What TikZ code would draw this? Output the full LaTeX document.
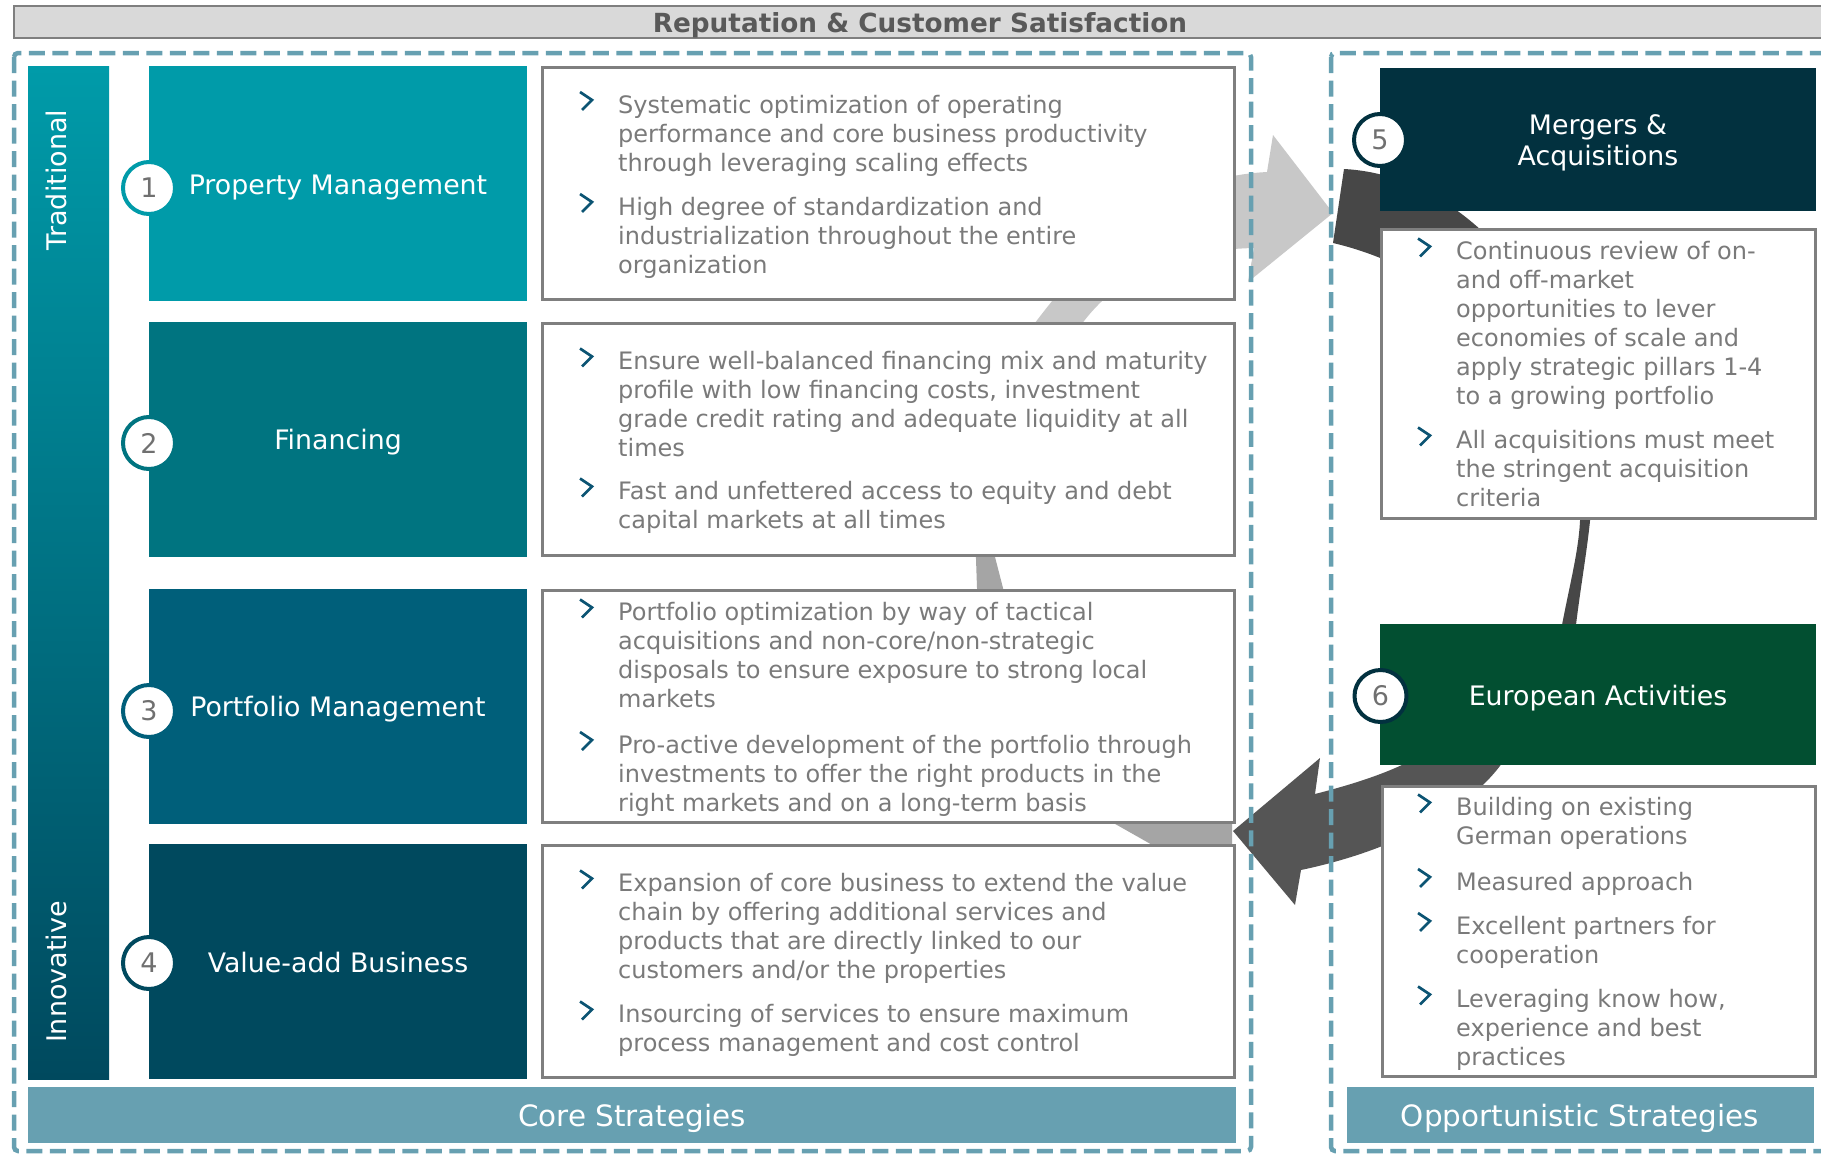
\documentclass[tikz,border=0pt]{standalone}
\usepackage{fontspec}
\setmainfont{DejaVu Sans}
\definecolor{tealA}{HTML}{009BA9}
\definecolor{tealB}{HTML}{007480}
\definecolor{tealC}{HTML}{005F7A}
\definecolor{tealD}{HTML}{00495E}
\definecolor{navy}{HTML}{02313F}
\definecolor{forest}{HTML}{024F31}
\definecolor{dashc}{HTML}{67A0B1}
\definecolor{bordc}{HTML}{7F7F7F}
\definecolor{txtc}{HTML}{7A7A7A}
\definecolor{numc}{HTML}{707070}
\definecolor{chevc}{HTML}{0C5473}
\definecolor{lgrey}{HTML}{C8C8C8}
\definecolor{mgrey}{HTML}{A5A5A5}
\definecolor{dgreyA}{HTML}{474747}
\definecolor{dgreyB}{HTML}{555555}
\definecolor{bannerc}{HTML}{D9D9D9}
\definecolor{bannertxt}{HTML}{595959}
\newcommand\ml[1]{\vtop{\baselineskip=29pt\lineskiplimit=-100pt\lineskip=0pt\halign{##\hfil\cr#1\crcr}}}
\newcommand\lowered[2]{\raisebox{-#1pt}[0pt][0pt]{#2}}
\newcommand\ctwo[1]{\vbox{\baselineskip=31pt\lineskiplimit=-100pt\lineskip=0pt\halign{\hfil##\hfil\cr#1\crcr}}}
\newcommand\bpara[4]{%
  \draw[chev] (#2-38,#3-21) -- (#2-26,#3-13) -- (#2-36,#3-3);
  \node[btxt] (#1) at (#2,#3) {\ml{#4}};}
\begin{document}
\begin{tikzpicture}[x=1pt,y=-1pt,
  colbox/.style={draw=none, minimum width=378pt, minimum height=235pt, inner sep=0pt, text=white, font=\fontsize{26.8}{31}\selectfont},
  txtbox/.style={draw=bordc, line width=3pt, fill=white, minimum width=692pt, minimum height=232pt, inner sep=0pt},
  numc/.style={circle, fill=white, line width=4pt, minimum size=52pt, inner sep=0pt, text=numc, font=\fontsize{27}{31}\selectfont},
  btxt/.style={anchor=base west, inner sep=0pt, text=txtc, font=\fontsize{24}{29}\selectfont},
  chev/.style={draw=chevc, line width=2.7pt},
  dashbox/.style={draw=dashc, line width=4.5pt, dash pattern=on 16pt off 7.5pt, rounded corners=4pt},
  strat/.style={fill=dashc, text=white, font=\fontsize{29.4}{34}\selectfont, inner sep=0pt, minimum height=56pt},
  sidetxt/.style={rotate=90, text=white, inner sep=0pt, font=\fontsize{27}{31}\selectfont}]
\useasboundingbox (0,0) rectangle (1821,1154);
\clip (0,0) rectangle (1821,1154);
\fill[white] (0,0) rectangle (1821,1154);

% banner
\node[draw=bordc, line width=2pt, fill=bannerc, minimum width=1812pt, minimum height=32pt, inner sep=0pt,
  text=bannertxt, font=\bfseries\fontsize{26.3}{30}\selectfont] (rep) at (920,22) {\lowered{10.5}{Reputation \& Customer Satisfaction}};

% arrows (behind boxes)
\fill[lgrey] (1015,350) .. controls (1080,260) and (1150,178) .. (1267,172) -- (1273,135) -- (1333,213) -- (1248,282) -- (1254,248) .. controls (1175,250) and (1108,272) .. (1065,350) -- cycle;
\fill[mgrey] (975,530) -- (977,588) .. controls (980,720) and (1060,795) .. (1117,825) -- (1170,855) -- (1232,855) -- (1232,800) .. controls (1100,780) and (1005,700) .. (1003,588) -- (995,557) -- (993,530) -- cycle;
\fill[dgreyA] (1344,169) .. controls (1480,176) and (1600,330) .. (1590,521) .. controls (1586,560) and (1578,600) .. (1572,660) -- (1556,660) .. controls (1565,600) and (1578,560) .. (1580,521) .. controls (1585,400) and (1470,275) .. (1333,243) -- cycle;
\fill[dgreyB] (1233,831) -- (1320,758) -- (1315,794) .. controls (1350,785) and (1395,772) .. (1430,750) -- (1440,725) -- (1515,725) -- (1515,740) .. controls (1495,790) and (1420,845) .. (1301,870) -- (1295,905) -- cycle;

% vertical bar
\node[minimum width=81pt, minimum height=1013pt, inner sep=0pt, top color=tealA, bottom color=tealD, draw=none] (bar) at (68.5,572.5) {};
\node[sidetxt] (trad) at (56,180) {Traditional};
\node[sidetxt] (innov) at (56,972) {Innovative};

% core boxes
\node[colbox, fill=tealA] (pm) at (338,183.5) {\lowered{10.5}{Property Management}};
\node[colbox, fill=tealB] (fin) at (338,439) {\lowered{10.5}{Financing}};
\node[colbox, fill=tealC] (port) at (338,706) {\lowered{10.5}{Portfolio Management}};
\node[colbox, fill=tealD] (va) at (338,961.5) {\lowered{10.5}{Value-add Business}};

\node[txtbox] (tpm) at (888.5,183.5) {};
\node[txtbox] (tfin) at (888.5,439) {};
\node[txtbox] (tport) at (888.5,706) {};
\node[txtbox] (tva) at (888.5,961.5) {};

\node[numc, draw=tealA] (n1) at (149,188) {1};
\node[numc, draw=tealB] (n2) at (149,443) {2};
\node[numc, draw=tealC] (n3) at (149,711) {3};
\node[numc, draw=tealD] (n4) at (149,963) {4};

% opportunistic boxes
\node[colbox, fill=navy, minimum width=436pt, minimum height=143pt] (ma) at (1598,139.5) {\lowered{26}{\ctwo{Mergers \&\cr Acquisitions}}};
\node[colbox, fill=forest, minimum width=436pt, minimum height=141pt] (eu) at (1598,694.5) {\lowered{10.5}{European Activities}};
\node[txtbox, minimum width=434pt, minimum height=289pt] (tma) at (1598.5,374) {};
\node[txtbox, minimum width=433pt, minimum height=290pt] (teu) at (1599,931.5) {};
\node[numc, draw=navy] (n5) at (1380,140) {5};
\node[numc, draw=navy] (n6) at (1380.5,696) {6};

% bullets
\bpara{b1a}{618}{113}{Systematic optimization of operating\cr performance and core business productivity\cr through leveraging scaling effects}
\bpara{b1b}{618}{215}{High degree of standardization and\cr industrialization throughout the entire\cr organization}
\bpara{b2a}{618}{369.5}{Ensure well-balanced financing mix and maturity\cr profile with low financing costs, investment\cr grade credit rating and adequate liquidity at all\cr times}
\bpara{b2b}{618}{499.5}{Fast and unfettered access to equity and debt\cr capital markets at all times}
\bpara{b3a}{618}{620.5}{Portfolio optimization by way of tactical\cr acquisitions and non-core/non-strategic\cr disposals to ensure exposure to strong local\cr markets}
\bpara{b3b}{618}{753}{Pro-active development of the portfolio through\cr investments to offer the right products in the\cr right markets and on a long-term basis}
\bpara{b4a}{618}{891.5}{Expansion of core business to extend the value\cr chain by offering additional services and\cr products that are directly linked to our\cr customers and/or the properties}
\bpara{b4b}{618}{1022.5}{Insourcing of services to ensure maximum\cr process management and cost control}
\bpara{b5a}{1456}{259.5}{Continuous review of on-\cr and off-market\cr opportunities to lever\cr economies of scale and\cr apply strategic pillars 1-4\cr to a growing portfolio}
\bpara{b5b}{1456}{448.5}{All acquisitions must meet\cr the stringent acquisition\cr criteria}
\bpara{b6a}{1456}{815.5}{Building on existing\cr German operations}
\bpara{b6b}{1456}{890}{Measured approach}
\bpara{b6c}{1456}{934}{Excellent partners for\cr cooperation}
\bpara{b6d}{1456}{1007.5}{Leveraging know how,\cr experience and best\cr practices}

% dashed frames
\draw[dashbox] (14,53) rectangle (1251,1151);
\draw[dashbox] (1331,53) rectangle (1860,1151);

% strategy bars
\node[strat, minimum width=1208pt] (core) at (632,1115) {\lowered{11.5}{Core Strategies}};
\node[strat, minimum width=467pt] (opp) at (1580,1115) {\lowered{11.5}{Opportunistic Strategies}};
\end{tikzpicture}
\end{document}
